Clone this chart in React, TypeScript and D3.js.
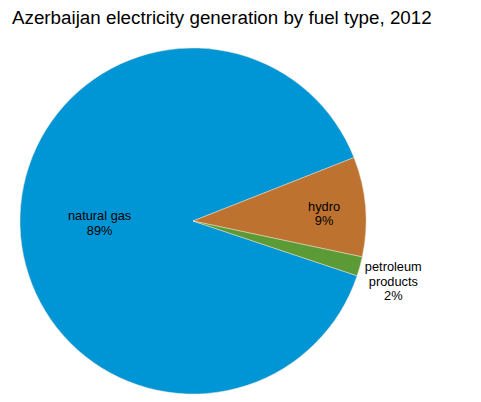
import React from "react";
import * as d3 from "d3";

const categories = ["natural gas", "hydro", "petroleum products"];
const values = [88.9, 9.3, 1.8];
const labelLines = [["natural gas"], ["hydro"], ["petroleum", "products"]];
const colors = ["#0096D6", "#BD7230", "#5C9A35"];
const title = "Azerbaijan electricity generation by fuel type, 2012";

const W = 481;
const H = 402;
const cx = 193;
const cy = 221;
const R = 173;
const labelRadius = [0.54, 0.76, 1.2];
const labelShift = [0, 4, 6];

export default function App() {
  const total = d3.sum(values);
  const gasSpan = (values[0] / total) * 2 * Math.PI;
  const hydroStart = (68.5 * Math.PI) / 180;
  const start = hydroStart - gasSpan;
  const pie = d3
    .pie<number>()
    .sort(null)
    .value((d) => d)
    .startAngle(start)
    .endAngle(start + 2 * Math.PI);
  const arcs = pie(values);
  const arc = d3.arc<d3.PieArcDatum<number>>().innerRadius(0).outerRadius(R);
  return (
    <svg
      width={W}
      height={H}
      style={{ position: "absolute", left: 0, top: 0, background: "#fff" }}
      fontFamily="Liberation Sans, Arial, sans-serif"
    >
      <text x={12} y={24} fontSize={18.8} fill="#000">
        {title}
      </text>
      <g transform={`translate(${cx},${cy})`}>
        {arcs.map((a, i) => (
          <path key={categories[i]} d={arc(a) || ""} fill={colors[i]} stroke="#e8e0d0" strokeWidth={0.5} />
        ))}
        {arcs.map((a, i) => {
          const mid = (a.startAngle + a.endAngle) / 2;
          const r = R * labelRadius[i];
          const x = Math.sin(mid) * r;
          const y = -Math.cos(mid) * r + labelShift[i];
          const lines = [...labelLines[i], `${Math.round(values[i])}%`];
          const lh = 14.7;
          const y0 = y - ((lines.length - 1) * lh) / 2 + 4;
          return (
            <text key={"l" + i} textAnchor="middle" fontSize={12.8} fill="#000">
              {lines.map((t, j) => (
                <tspan key={j} x={x} y={y0 + j * lh}>
                  {t}
                </tspan>
              ))}
            </text>
          );
        })}
      </g>
    </svg>
  );
}
